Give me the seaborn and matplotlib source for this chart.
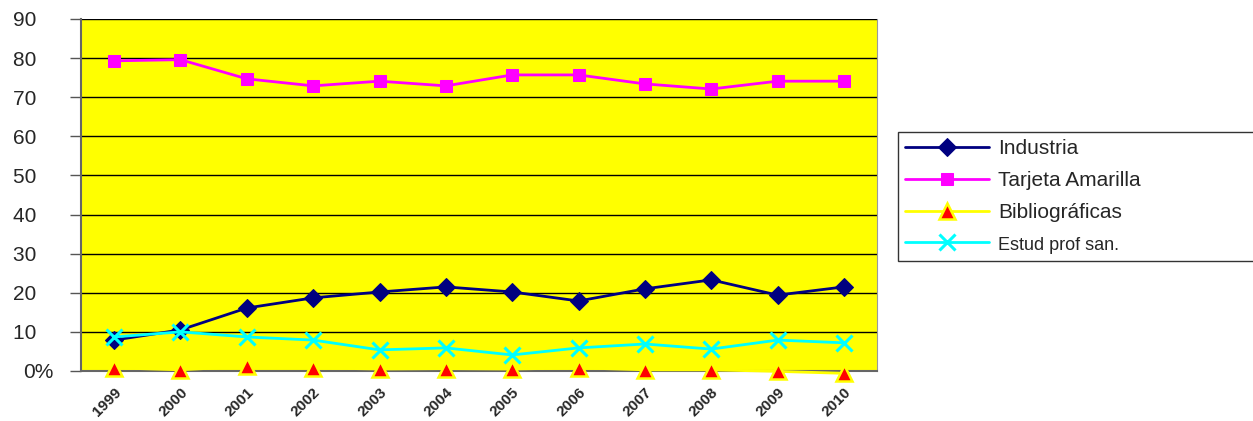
import matplotlib
matplotlib.use("Agg")
import matplotlib.pyplot as plt
import seaborn as sns
import pandas as pd
import numpy as np

years = ["1999", "2000", "2001", "2002", "2003", "2004",
         "2005", "2006", "2007", "2008", "2009", "2010"]
industria = [7.9, 10.5, 16.1, 18.7, 20.2, 21.5, 20.2, 17.9, 21.0, 23.3, 19.4, 21.5]
tarjeta = [79.3, 79.6, 74.7, 72.9, 74.1, 72.9, 75.7, 75.7, 73.4, 72.1, 74.1, 74.1]
bibliograficas = [0.8, 0.3, 1.2, 0.8, 0.5, 0.6, 0.5, 0.8, 0.3, 0.3, -0.1, -0.6]
estud = [8.7, 10.0, 8.7, 7.9, 5.4, 5.9, 4.1, 5.9, 6.9, 5.6, 7.9, 7.2]
yticks = [0, 10, 20, 30, 40, 50, 60, 70, 80, 90]
ytick_labels = ["0%", "10   ", "20   ", "30   ", "40   ", "50   ",
                "60   ", "70   ", "80   ", "90   "]

sns.set_style("white")
plt.rcParams["font.family"] = ["Liberation Sans", "DejaVu Sans"]

fig = plt.figure(figsize=(12.53, 4.21), dpi=100)
ax = fig.add_axes([0.0646, 0.1188, 0.6354, 0.8361])
ax.set_facecolor("#FFFF00")

x = np.arange(len(years))
series = [
    ("Industria", industria, dict(color="#000080", marker="D", markersize=9,
                                  markerfacecolor="#000080", markeredgecolor="#000080")),
    ("Tarjeta Amarilla", tarjeta, dict(color="#FF00FF", marker="s", markersize=8.5,
                                       markerfacecolor="#FF00FF", markeredgecolor="#FF00FF")),
    ("Bibliográficas", bibliograficas, dict(color="#FFFF00", marker="^", markersize=11,
                                           markerfacecolor="#FF0000", markeredgecolor="#FFFF00",
                                           markeredgewidth=1.8)),
    ("Estud prof san.", estud, dict(color="#00FFFF", marker="x", markersize=11,
                                    markeredgecolor="#00FFFF", markeredgewidth=2.2)),
]

for name, vals, style in series:
    df = pd.DataFrame({"x": x, "y": vals})
    sns.lineplot(data=df, x="x", y="y", ax=ax, label=name, linewidth=2,
                 clip_on=False, zorder=3, **style)

ax.set_xlim(-0.5, len(years) - 0.5)
ax.set_ylim(0, 90)
ax.set_yticks(yticks)
ax.set_yticklabels(ytick_labels, fontsize=15)
ax.yaxis.grid(True, color="black", linewidth=1)
ax.set_axisbelow(True)

# category labels sit in the middle of each band, tick marks on band edges
ax.set_xticks(x)
ax.set_xticklabels(years, rotation=45, ha="right", va="top", fontsize=11,
                   fontweight="bold", rotation_mode="anchor")
ax.set_xticks(np.arange(-0.5, len(years), 1.0), minor=True)
ax.tick_params(axis="x", which="major", length=0, pad=10)
ax.tick_params(axis="x", which="minor", length=6, width=1, color="#555555", direction="out")
ax.tick_params(axis="y", length=8, width=1, color="#555555", direction="out", left=True, pad=12)
ax.set_xlabel("")
ax.set_ylabel("")

for side in ["left", "bottom"]:
    ax.spines[side].set_color("#666666")
    ax.spines[side].set_linewidth(1.5)
ax.spines["right"].set_color("#999999")
ax.spines["top"].set_visible(False)
ax.spines["right"].set_visible(True)

leg = ax.legend(loc="upper left", bbox_to_anchor=(0.7167, 0.392, 0.30, 0.2945),
                bbox_transform=fig.transFigure, mode="expand", borderaxespad=0,
                fontsize=15, frameon=True, fancybox=False, handlelength=4.0,
                handletextpad=0.45, labelspacing=0.62, borderpad=0.35)
leg.get_frame().set_edgecolor("black")
leg.get_frame().set_linewidth(1)
leg.get_texts()[3].set_fontsize(13)

fig.savefig("out.png", dpi=100, facecolor="white")
